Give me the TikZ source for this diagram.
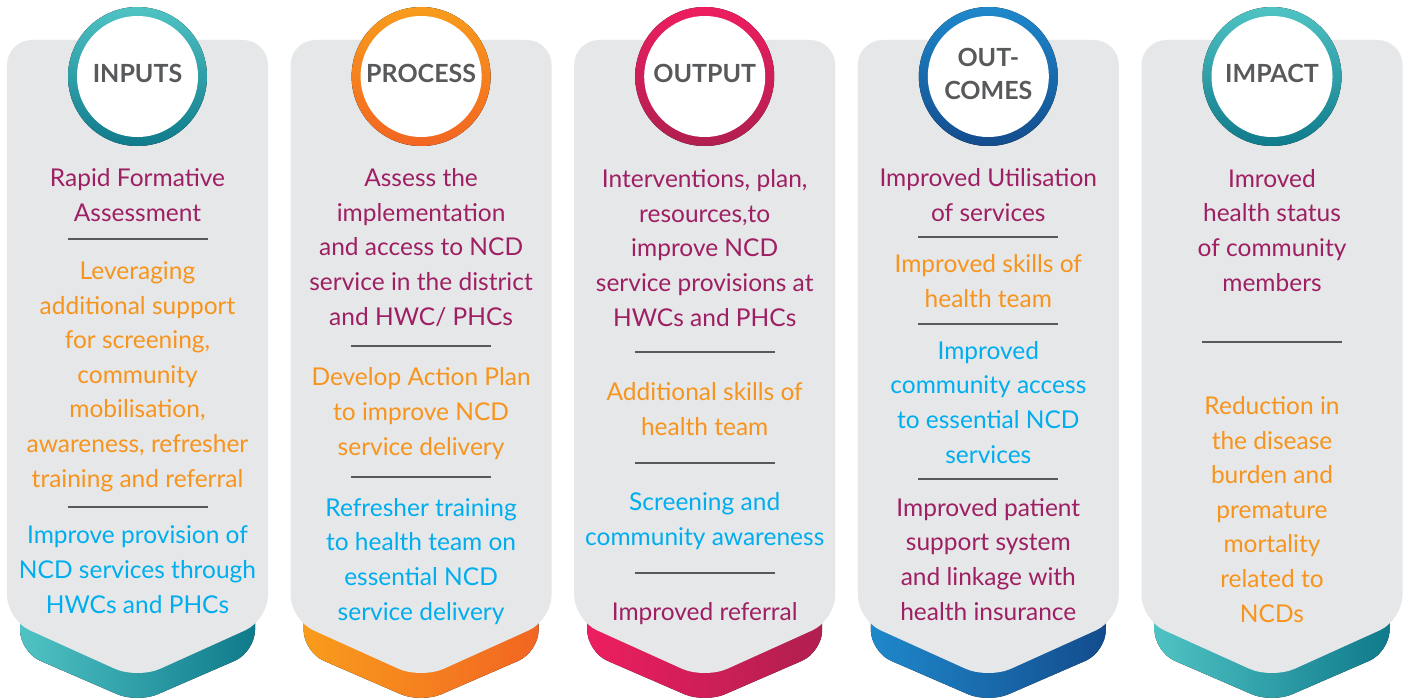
\documentclass[tikz,border=0pt]{standalone}
\usepackage{fontspec}
\setmainfont{Lato}
\definecolor{panelgrey}{HTML}{E6E7E8}
\definecolor{titlegrey}{HTML}{58595B}
\definecolor{maroonx}{HTML}{9E1F63}
\definecolor{orangex}{HTML}{F7941D}
\definecolor{cyanx}{HTML}{00AEEF}
\definecolor{tealL}{HTML}{4FC3C4}
\definecolor{tealD}{HTML}{0F7A8B}
\definecolor{orangeL}{HTML}{F89C1C}
\definecolor{orangeD}{HTML}{F26522}
\definecolor{pinkL}{HTML}{ED1E60}
\definecolor{pinkD}{HTML}{B01F4F}
\definecolor{blueL}{HTML}{1E88CB}
\definecolor{blueD}{HTML}{134C8D}
\newcommand\mypillar[5]{%
  \fill[left color=#2, right color=#3, rounded corners=22pt]
    (#1,560) -- (#1+117.5,560) -- (#1+117.5,652) -- (#1,703) -- (#1-117.5,652) -- (#1-117.5,560) -- cycle;
  \fill[panelgrey, rounded corners=25pt]
    (#1,40) -- (#1+130.5,40) -- (#1+130.5,620) -- (#1,679) -- (#1-130.5,620) -- (#1-130.5,40) -- cycle;
  \fill[top color=#4, bottom color=#5] (#1,76.5) circle (69.5pt);
  \fill[white] (#1,76.5) circle (60.5pt);
}
\newcommand\mydiv[2]{\draw[divider] (#1-70,#2) -- ++(140,0);}
\begin{document}
\begin{tikzpicture}[x=1pt,y=-1pt,
  txt/.style={anchor=base, align=center, inner sep=0pt, font=\fontsize{24.5}{34.6}\selectfont},
  mar/.style={txt, text=maroonx},
  org/.style={txt, text=orangex},
  cyn/.style={txt, text=cyanx},
  titlebox/.style={anchor=base, align=center, inner sep=0pt, text=titlegrey, font=\fontsize{25}{33}\selectfont\bfseries},
  divider/.style={draw=titlegrey, line width=2.2pt}]
\useasboundingbox (0,0) rectangle (1407,698);
\fill[white] (0,0) rectangle (1407,698);

\mypillar{137.5}{tealL}{tealD}{tealL}{tealD}
\mypillar{421.1}{orangeL}{orangeD}{orangeL}{orangeD}
\mypillar{704.7}{pinkL}{pinkD}{pinkL}{pinkD}
\mypillar{988.3}{blueL}{blueD}{blueL}{blueD}
\mypillar{1272}{tealL}{tealD}{tealL}{tealD}

% titles (anchor base = baseline of the last line)
\node[titlebox] (tin) at (137.5,83) {INPUTS};
\node[titlebox] (tpr) at (421.1,83) {PROCESS};
\node[titlebox] (tou) at (704.7,83) {OUTPUT};
\node[titlebox] (toc) at (988.3,100) {OUT-\\COMES};
\node[titlebox] (tim) at (1272,83) {IMPACT};

% column 1
\node[mar] (a1) at (137.5,221) {Rapid Formative\\Assessment};
\mydiv{137.5}{239}
\node[org] (a2) at (137.5,487) {Leveraging\\additional support\\for screening,\\community\\mobilisation,\\awareness, refresher\\training and referral};
\mydiv{137.5}{507}
\node[cyn] (a3) at (137.5,613) {Improve provision of\\NCD services through\\HWCs and PHCs};

% column 2
\node[mar] (b1) at (421.1,325) {Assess the\\implementation\\and access to NCD\\service in the district\\and HWC/ PHCs};
\mydiv{421.1}{346}
\node[org] (b2) at (421.1,455) {Develop Action Plan\\to improve NCD\\service delivery};
\mydiv{421.1}{477}
\node[cyn] (b3) at (421.1,620) {Refresher training\\to health team on\\essential NCD\\service delivery};

% column 3
\node[mar] (c1) at (704.7,326) {Interventions, plan,\\resources,to\\improve NCD\\service provisions at\\HWCs and PHCs};
\mydiv{704.7}{352}
\node[org] (c2) at (704.7,435) {Additional skills of\\health team};
\mydiv{704.7}{463}
\node[cyn] (c3) at (704.7,545) {Screening and\\community awareness};
\mydiv{704.7}{573}
\node[mar] (c4) at (704.7,620) {Improved referral};

% column 4
\node[mar] (d1) at (988.3,221) {Improved Utilisation\\of services};
\mydiv{988.3}{237}
\node[org] (d2) at (988.3,307) {Improved skills of\\health team};
\mydiv{988.3}{324}
\node[cyn] (d3) at (988.3,463) {Improved\\community access\\to essential NCD\\services};
\mydiv{988.3}{479}
\node[mar] (d4) at (988.3,620) {Improved patient\\support system\\and linkage with\\health insurance};

% column 5
\node[mar] (e1) at (1272,291) {Imroved\\health status\\of community\\members};
\mydiv{1272}{342}
\node[org] (e2) at (1272,622) {Reduction in\\the disease\\burden and\\premature\\mortality\\related to\\NCDs};
\end{tikzpicture}
\end{document}
